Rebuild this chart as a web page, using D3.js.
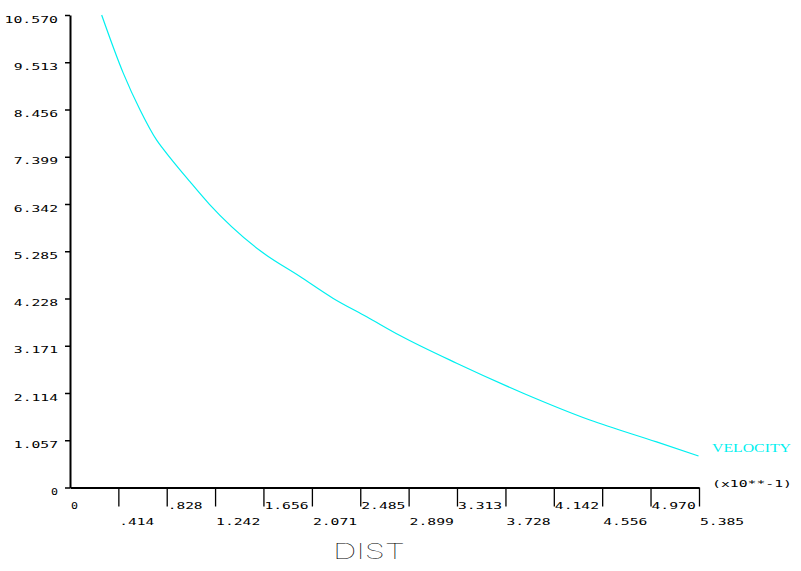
<!DOCTYPE html>
<html><head><meta charset="utf-8">
<script src="https://cdn.jsdelivr.net/npm/d3@7"></script>
<style>body{margin:0;background:#fff;overflow:hidden}</style>
</head><body>
<script>
const dist = [0.271, 0.456, 0.599, 0.742, 0.799, 1.027, 1.192, 1.626, 1.969, 2.254, 2.540, 2.825, 3.310, 3.880, 4.451, 5.022, 5.381];
const velocity = [10.57, 9.27, 8.45, 7.77, 7.57, 6.84, 6.34, 5.30, 4.72, 4.23, 3.82, 3.40, 2.78, 2.11, 1.51, 1.02, 0.705];
const xTickLabels = ["0", ".414", ".828", "1.242", "1.656", "2.071", "2.485", "2.899", "3.313", "3.728", "4.142", "4.556", "4.970", "5.385"];
const yTickLabels = ["0", "1.057", "2.114", "3.171", "4.228", "5.285", "6.342", "7.399", "8.456", "9.513", "10.570"];
const xTitle = "DIST";
const seriesName = "VELOCITY";
const scaleNote = "(x10**-1)";

const W = 801, H = 571;
const svg = d3.select("body").append("svg").attr("width", W).attr("height", H);
const xVals = xTickLabels.map(Number), yVals = yTickLabels.map(Number);
const x = d3.scaleLinear().domain([0, d3.max(xVals)]).range([70, 699]);
const y = d3.scaleLinear().domain([0, d3.max(yVals)]).range([487.5, 15]);
const mono = "'DejaVu Sans Mono', monospace";
const cw = 9.3;

// Y axis
const gy = svg.append("g").attr("transform", "translate(70,0)")
  .call(d3.axisLeft(y).tickValues(yVals).tickSize(5).tickSizeOuter(0).tickFormat((d, i) => yTickLabels[i]));
gy.select(".domain").attr("stroke", "#000").attr("stroke-width", 2);
gy.selectAll(".tick line").attr("stroke", "#000").attr("stroke-width", 1.5);
gy.selectAll(".tick text")
  .attr("x", -12).attr("dy", null).attr("y", 7)
  .attr("font-family", mono).attr("font-size", 9).attr("fill", "#000")
  .attr("text-anchor", "end")
  .attr("textLength", (d, i) => yTickLabels[i].length * cw - 2.3)
  .attr("lengthAdjust", "spacingAndGlyphs");

// X axis
const gx = svg.append("g").attr("transform", "translate(0,487.5)")
  .call(d3.axisBottom(x).tickValues(xVals).tickSize(19).tickSizeOuter(0).tickFormat((d, i) => xTickLabels[i]));
gx.select(".domain").attr("stroke", "#000").attr("stroke-width", 2);
gx.selectAll(".tick line").attr("stroke", "#000").attr("stroke-width", 1.3)
  .attr("display", (d, i) => i === 0 ? "none" : null);
gx.selectAll(".tick text")
  .attr("x", 0.5).attr("dy", null)
  .attr("y", (d, i) => i % 2 === 0 ? 21.5 : 37.5)
  .attr("font-family", mono).attr("font-size", 9).attr("fill", "#000")
  .attr("text-anchor", "start")
  .attr("textLength", (d, i) => xTickLabels[i].length * cw - 2.3)
  .attr("lengthAdjust", "spacingAndGlyphs");

// curve
const line = d3.line().x((d, i) => x(dist[i])).y((d, i) => y(velocity[i])).curve(d3.curveMonotoneX);
svg.append("path").datum(velocity).attr("d", line)
  .attr("fill", "none").attr("stroke", "#00f0f0").attr("stroke-width", 1.2);

// labels
svg.append("text").attr("x", 712).attr("y", 452).text(seriesName)
  .attr("font-family", "'Liberation Serif', serif").attr("font-size", 12.5).attr("fill", "#00f0f0")
  .attr("textLength", 79).attr("lengthAdjust", "spacingAndGlyphs");
svg.append("text").attr("x", 712).attr("y", 487).text(scaleNote)
  .attr("font-family", mono).attr("font-size", 9).attr("fill", "#000")
  .attr("textLength", 80).attr("lengthAdjust", "spacingAndGlyphs");
svg.append("text").attr("x", 333).attr("y", 559).text(xTitle)
  .attr("font-family", "Inter, 'DejaVu Sans', sans-serif").attr("font-size", 22).attr("font-weight", 100).attr("fill", "#000")
  .attr("textLength", 72).attr("lengthAdjust", "spacingAndGlyphs");
</script>
</body></html>
